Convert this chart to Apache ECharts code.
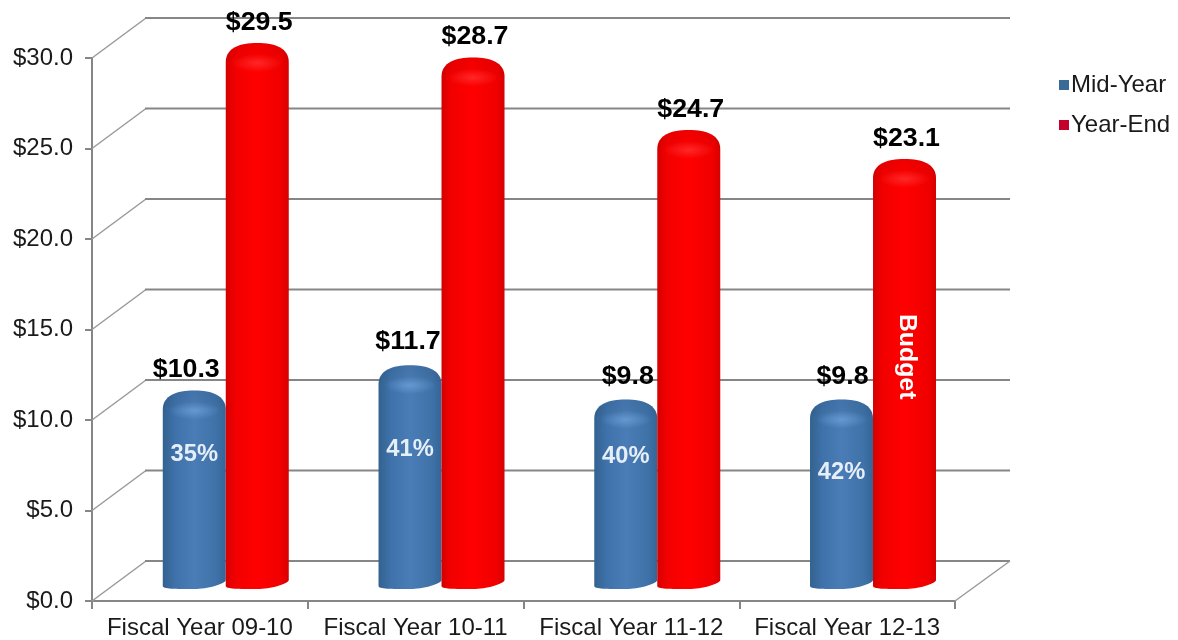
<!DOCTYPE html>
<html>
<head>
<meta charset="utf-8">
<style>html,body{margin:0;padding:0;background:#fff}#c{width:1178px;height:640px}</style>
<script src="https://cdn.jsdelivr.net/npm/echarts@6/dist/echarts.min.js"></script>
</head>
<body>
<div id="c"></div>
<script>
const categories = ['Fiscal Year 09-10', 'Fiscal Year 10-11', 'Fiscal Year 11-12', 'Fiscal Year 12-13'];
const midYear = [10.3, 11.7, 9.8, 9.8];
const yearEnd = [29.5, 28.7, 24.7, 23.1];
const midPct = ['35%', '41%', '40%', '42%'];
const midPctAt = [8.1, 8.35, 8.0, 7.1];
const yTicks = [0, 5, 10, 15, 20, 25, 30];
const yearEndNote = ['', '', '', 'Budget'];
const yearEndNoteAt = [0, 0, 0, 13.5];

const FONT = '"Liberation Sans", Arial, sans-serif';
const midLabelNudge = [-8, -2, 2, 1];
const midLabelLift = [20, 23, 23, 23];
const G = echarts.graphic;
const blueFill = new G.LinearGradient(0, 0, 1, 0, [
  {offset: 0, color: '#32628f'}, {offset: 0.2, color: '#3f72aa'},
  {offset: 0.5, color: '#4a7db6'}, {offset: 0.85, color: '#3f72a8'}, {offset: 1, color: '#356597'}]);
const redFill = new G.LinearGradient(0, 0, 1, 0, [
  {offset: 0, color: '#d40000'}, {offset: 0.15, color: '#f20000'},
  {offset: 0.5, color: '#ff0000'}, {offset: 0.88, color: '#f00000'}, {offset: 1, color: '#d60000'}]);

function cylinder(api, side, fill, glow, shade) {
  const i = api.value(0), v = api.value(1);
  const band = api.size([1, 0])[0];
  const w = band * 0.292, dx = band * 0.12;
  const cx = api.coord([i, 0])[0] + dx;
  const x0 = side < 0 ? cx - w : cx, x1 = x0 + w, xc = (x0 + x1) / 2;
  const top = api.coord([i, v])[1] - 24;
  const bot = api.coord([i, 0])[1] - 12;
  const d = `M${x0} ${top + 19} C${x0} ${top + 5} ${x0 + w * .22} ${top} ${xc} ${top} ` +
    `C${x1 - w * .22} ${top} ${x1} ${top + 5} ${x1} ${top + 19} L${x1} ${bot - 9} ` +
    `C${x1} ${bot - 5} ${x1 - w * .3} ${bot} ${xc} ${bot} ` +
    `C${x0 + w * .2} ${bot} ${x0} ${bot} ${x0} ${bot - 3} Z`;
  const capD = `M${x0} ${top + 19} C${x0} ${top + 5} ${x0 + w * .22} ${top} ${xc} ${top} ` +
    `C${x1 - w * .22} ${top} ${x1} ${top + 5} ${x1} ${top + 19} Z`;
  return {
    top, xc, children: [
      {type: 'path', shape: {pathData: d}, style: {fill}},
      {type: 'path', shape: {pathData: capD}, style: {
        fill: new G.LinearGradient(0, 0, 0, 1, [{offset: 0, color: shade}, {offset: 1, color: 'rgba(0,0,0,0)'}])}},
      {type: 'circle', x: xc, y: top + 20, scaleX: 2.8, shape: {cx: 0, cy: 0, r: 9}, style: {
        fill: new G.RadialGradient(0.5, 0.5, 0.5, [{offset: 0, color: glow}, {offset: 1, color: glow.replace(/[\d.]+\)$/, '0)')}])}}
    ]
  };
}
function txt(x, y, text, size, fill, scale, extra) {
  return Object.assign({type: 'text', x, y, scaleX: scale, style: {
    text, fill, fontFamily: FONT, fontSize: size, fontWeight: 'bold', align: 'center', verticalAlign: 'middle'}}, extra || {});
}

const chart = echarts.init(document.getElementById('c'));
chart.setOption({
  animation: false,
  backgroundColor: '#fff',
  textStyle: {fontFamily: FONT},
  legend: {
    orient: 'vertical', left: 1054, top: 68, itemWidth: 10, itemHeight: 10, itemGap: 16, icon: 'rect',
    data: ['Mid-Year', 'Year-End'],
    textStyle: {fontFamily: FONT, fontSize: 24, color: '#1a1a1a', padding: [0, 0, 0, -3]}
  },
  grid: {left: 92, right: 223, top: 58, bottom: 39},
  xAxis: {
    type: 'category', data: categories, boundaryGap: true,
    axisLine: {lineStyle: {color: '#868686', width: 2}},
    axisTick: {show: true, length: 8, lineStyle: {color: '#868686', width: 2}},
    axisLabel: {fontFamily: FONT, fontSize: 24, color: '#1a1a1a', margin: 15, interval: 0}
  },
  yAxis: {
    type: 'value', min: 0, max: 30, interval: 5,
    axisLine: {show: true, lineStyle: {color: '#868686', width: 2}},
    axisTick: {show: true, length: 7, lineStyle: {color: '#868686', width: 2}},
    splitLine: {show: false},
    axisLabel: {fontFamily: FONT, fontSize: 24, color: '#1a1a1a', margin: 19, formatter: v => '$' + v.toFixed(1)}
  },
  series: [
    {
      type: 'custom', name: 'walls', silent: true, z: 1,
      data: yTicks.map(t => [0, t]),
      encode: {x: 0, y: 1},
      renderItem(params, api) {
        const y = api.coord([0, api.value(1)])[1];
        const x0 = params.coordSys.x, x1 = x0 + params.coordSys.width;
        const kids = [
          {type: 'line', shape: {x1: x0, y1: y, x2: x0 + 54, y2: y - 40}, style: {stroke: '#9a9a9a', lineWidth: 1.5}},
          {type: 'line', shape: {x1: x0 + 53, y1: y - 40, x2: x1 + 55, y2: y - 40}, style: {stroke: '#868686', lineWidth: 2}}
        ];
        if (api.value(1) === 0) {
          kids.push({type: 'line', shape: {x1: x1, y1: y, x2: x1 + 55, y2: y - 40}, style: {stroke: '#9a9a9a', lineWidth: 1.5}});
        }
        return {type: 'group', children: kids};
      }
    },
    {
      type: 'custom', name: 'Mid-Year', z: 3, itemStyle: {color: '#3a6b96'},
      data: midYear.map((v, i) => [i, v]),
      encode: {x: 0, y: 1},
      renderItem(params, api) {
        const i = api.value(0);
        const c = cylinder(api, -1, blueFill, 'rgba(120,170,225,0.6)', 'rgba(20,50,90,0.12)');
        c.children.push(txt(c.xc, api.coord([i, midPctAt[i]])[1], midPct[i], 23, '#e6eef8', 1.03));
        c.children.push(txt(c.xc + midLabelNudge[i], c.top - midLabelLift[i], '$' + api.value(1).toFixed(1), 25, '#000', 1.07));
        return {type: 'group', children: c.children};
      }
    },
    {
      type: 'custom', name: 'Year-End', z: 4, itemStyle: {color: '#c4002a'},
      data: yearEnd.map((v, i) => [i, v]),
      encode: {x: 0, y: 1},
      renderItem(params, api) {
        const i = api.value(0);
        const c = cylinder(api, 1, redFill, 'rgba(255,70,70,0.55)', 'rgba(120,0,0,0.1)');
        c.children.push(txt(c.xc + 2, c.top - 20, '$' + api.value(1).toFixed(1), 25, '#000', 1.07));
        if (yearEndNote[i]) {
          c.children.push(txt(c.xc + 2, api.coord([i, yearEndNoteAt[i]])[1], yearEndNote[i], 23, '#fff', 1.08, {rotation: -Math.PI / 2}));
        }
        return {type: 'group', children: c.children};
      }
    }
  ]
});
</script>
</body>
</html>
